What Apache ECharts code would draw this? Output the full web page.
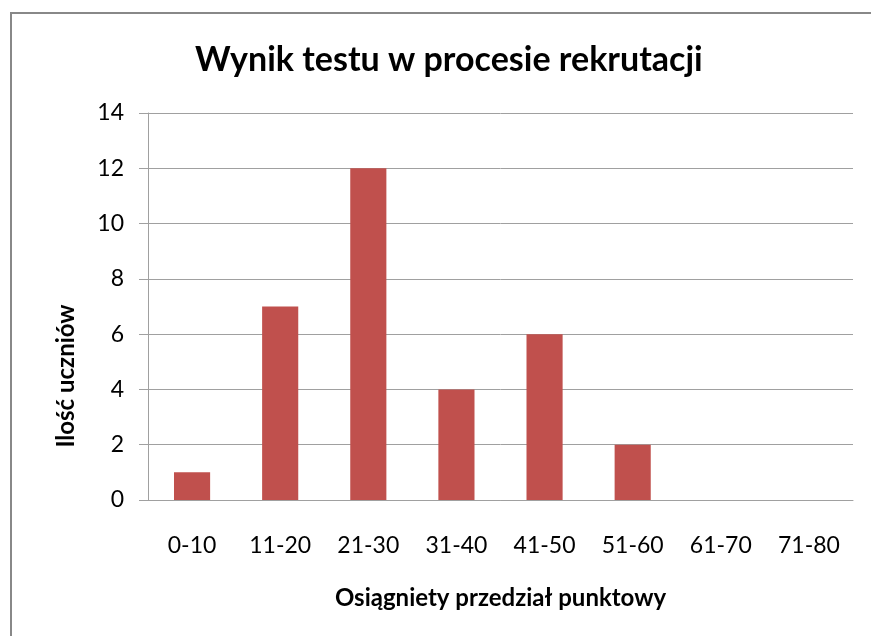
<!DOCTYPE html>
<html><head><meta charset="utf-8">
<script src="https://cdn.jsdelivr.net/npm/echarts@6/dist/echarts.min.js"></script>
<style>html,body{margin:0;padding:0;background:#fff}#c{width:871px;height:636px}</style>
</head><body><div id="c"></div>
<script>
const categories = ['0-10','11-20','21-30','31-40','41-50','51-60','61-70','71-80'];
const values = [1,7,12,4,6,2,0,0];
const yTicks = {min:0, max:14, interval:2};
const titleText = 'Wynik testu w procesie rekrutacji';
const xName = 'Osiągniety przedział punktowy';
const yName = 'Ilość uczniów';

const FONT = 'Lato';
const chart = echarts.init(document.getElementById('c'));
chart.setOption({
  animation:false,
  backgroundColor:'#fff',
  title:{text:titleText,left:190,top:38,textStyle:{fontFamily:FONT,fontSize:34,fontWeight:'bold',color:'#000'}},
  grid:{left:148,right:18,top:113,bottom:136},
  graphic:[
    {type:'rect',shape:{x:11,y:13,width:900,height:700},style:{fill:'none',stroke:'#888',lineWidth:2}},
    {type:'text',x:66,y:376,rotation:Math.PI/2,style:{text:yName,font:'bold 24px '+FONT,fill:'#000',align:'center',verticalAlign:'middle'}}
  ],
  xAxis:{type:'category',data:categories,
    axisLine:{lineStyle:{color:'#a0a0a0',width:1}},axisTick:{show:false},
    axisLabel:{margin:34,fontFamily:FONT,fontSize:23,color:'#000'},
    name:xName,nameLocation:'middle',nameGap:86,
    nameTextStyle:{fontFamily:FONT,fontSize:24,fontWeight:'bold',color:'#000'}},
  yAxis:{type:'value',min:yTicks.min,max:yTicks.max,interval:yTicks.interval,
    axisLine:{show:true,lineStyle:{color:'#a0a0a0',width:1}},
    axisTick:{show:true,length:9,lineStyle:{color:'#a0a0a0'}},
    splitLine:{lineStyle:{color:'#a0a0a0',width:1}},
    axisLabel:{margin:24,fontFamily:FONT,fontSize:23,color:'#000'}},
  series:[{type:'bar',data:values,barWidth:'41%',itemStyle:{color:'#c0504d'}}]
});
</script></body></html>
